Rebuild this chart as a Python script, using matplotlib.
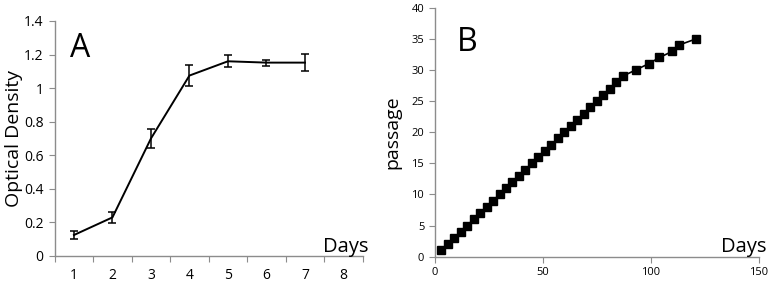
import matplotlib
matplotlib.use("Agg")
import matplotlib.pyplot as plt
import numpy as np

plt.rcParams['font.family'] = ['Open Sans', 'DejaVu Sans']

# Panel A data
days_a = [1, 2, 3, 4, 5, 6, 7]
od = [0.125, 0.23, 0.70, 1.075, 1.16, 1.152, 1.152]
od_err = [0.022, 0.035, 0.055, 0.065, 0.036, 0.018, 0.05]
a_tick_labels = ['1', '2', '3', '4', '5', '6', '7', '8']

# Panel B data
days_b = [3, 6, 9, 12, 15, 18, 21, 24, 27, 30, 33, 36, 39, 42, 45, 48, 51, 54,
          57, 60, 63, 66, 69, 72, 75, 78, 81, 84, 87, 93, 99, 104, 110, 113, 121]
passage = list(range(1, 36))

fig = plt.figure(figsize=(7.78, 2.86), dpi=100)
axA = fig.add_axes([0.0703, 0.1049, 0.3959, 0.8217])
axB = fig.add_axes([0.5587, 0.1024, 0.4168, 0.8707])

spine_col = '#8c8c8c'
for ax in (axA, axB):
    for s in ('top', 'right'):
        ax.spines[s].set_visible(False)
    for s in ('left', 'bottom'):
        ax.spines[s].set_color(spine_col)
        ax.spines[s].set_linewidth(1.0)

# Panel A
axA.errorbar(days_a, od, yerr=od_err, color='black', lw=1.4, capsize=3,
             elinewidth=1.1, capthick=1.1)
axA.set_xlim(0.5, 8.5)
axA.set_ylim(0, 1.4)
axA.set_xticks(np.arange(0.5, 9.0, 1.0))
axA.set_xticklabels([])
axA.set_xticks(np.arange(1, 9), minor=True)
axA.set_xticklabels(a_tick_labels, minor=True)
axA.tick_params(axis='x', which='minor', length=0, pad=9, labelsize=10)
axA.tick_params(axis='x', which='major', length=4, color=spine_col, direction='out')
axA.set_yticks(np.arange(0, 1.41, 0.2))
axA.set_yticklabels(['0', '0.2', '0.4', '0.6', '0.8', '1', '1.2', '1.4'])
axA.tick_params(axis='y', length=4, color=spine_col, labelsize=10, pad=4)
axA.set_ylabel('Optical Density', fontsize=14, labelpad=1)
axA.text(0.082, 0.885, 'A', transform=axA.transAxes, fontsize=23, va='center', ha='center')
axA.text(1.018, 0.04, 'Days', transform=axA.transAxes, fontsize=14.5, va='center', ha='right')

# Panel B
axB.plot(days_b, passage, color='black', lw=1.2, marker='s', markersize=5.5)
axB.set_xlim(0, 150)
axB.set_ylim(0, 40)
axB.set_xticks([0, 50, 100, 150])
axB.set_yticks(np.arange(0, 41, 5))
axB.tick_params(axis='both', length=4, color=spine_col, labelsize=8)
axB.set_ylabel('passage', fontsize=14, labelpad=7)
axB.text(0.099, 0.86, 'B', transform=axB.transAxes, fontsize=23, va='center', ha='center')
axB.text(1.024, 0.04, 'Days', transform=axB.transAxes, fontsize=14.5, va='center', ha='right')

fig.savefig('out.png', dpi=100)
